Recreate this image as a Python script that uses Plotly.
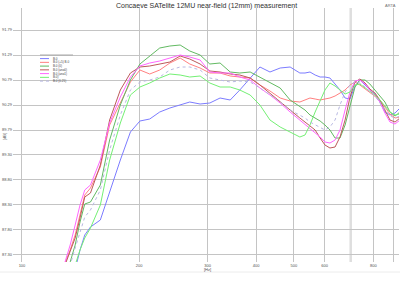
import plotly.graph_objects as go

# Frequency grid (Hz)
freq = [129, 133, 137, 141, 145, 150, 159, 168, 179, 190, 201, 213, 226, 240, 255, 270, 287,
        304, 323, 343, 363, 386, 409, 434, 461, 489, 518, 534, 550, 567, 584, 601, 619, 638,
        657, 677, 697, 718, 739, 762, 784, 808, 832, 857, 883, 910, 937]

s_blue = [86.19, 86.59, 87.03, 87.39, 87.69, 87.85, 87.99, 88.55, 89.19, 89.75, 89.97, 90.01, 90.15,
          90.23, 90.29, 90.35, 90.31, 90.33, 90.43, 90.39, 90.59, 90.83, 91.05, 90.95, 91.03, 91.05,
          90.93, 90.93, 90.95, 90.89, 90.85, 90.85, 90.83, 90.71, 90.59, 90.43, 90.41, 90.67, 90.79,
          90.69, 90.59, 90.51, 90.35, 90.15, 90.09, 90.13, 90.23]
s_red = [87.13, 87.39, 87.69, 88.09, 88.49, 88.63, 89.05, 89.89, 90.33, 90.75, 90.99, 90.91, 90.99,
         91.13, 91.23, 91.11, 91.03, 90.93, 90.93, 90.87, 90.85, 90.83, 90.69, 90.57, 90.43, 90.37,
         90.35, 90.39, 90.43, 90.41, 90.39, 90.41, 90.43, 90.47, 90.53, 90.59, 90.69, 90.75, 90.69,
         90.61, 90.53, 90.47, 90.39, 90.25, 90.11, 90.03, 90.05]
s_green = [86.69, 87.15, 87.49, 87.95, 88.31, 88.35, 88.69, 89.59, 90.29, 90.79, 91.11, 91.27, 91.43,
           91.47, 91.49, 91.37, 91.29, 91.11, 91.13, 90.95, 90.93, 90.95, 90.85, 90.75, 90.63, 90.39,
           90.25, 90.19, 90.09, 90.03, 89.97, 89.89, 89.79, 89.63, 89.63, 89.89, 90.25, 90.65, 90.79,
           90.79, 90.71, 90.59, 90.49, 90.35, 90.15, 90.07, 90.15]
s_brown = [87.09, 87.35, 87.63, 88.03, 88.45, 88.53, 89.09, 89.99, 90.59, 90.93, 91.05, 91.07, 91.11,
           91.15, 91.27, 91.21, 91.11, 90.97, 90.95, 90.91, 90.89, 90.83, 90.69, 90.53, 90.35, 90.19,
           90.03, 89.95, 89.87, 89.79, 89.63, 89.49, 89.43, 89.45, 89.65, 89.99, 90.45, 90.75, 90.81,
           90.73, 90.61, 90.53, 90.39, 90.19, 89.99, 89.95, 90.03]
s_magenta = [87.15, 87.49, 87.89, 88.29, 88.59, 88.69, 89.19, 89.93, 90.45, 90.85, 91.07, 91.13, 91.17,
             91.23, 91.29, 91.25, 91.19, 90.95, 90.93, 90.93, 90.85, 90.79, 90.63, 90.49, 90.33, 90.15,
             89.99, 89.91, 89.83, 89.75, 89.65, 89.55, 89.53, 89.59, 89.79, 90.19, 90.55, 90.77, 90.79,
             90.71, 90.59, 90.49, 90.35, 90.13, 89.95, 89.91, 89.99]
s_lgreen = [86.39, 86.69, 87.09, 87.39, 87.63, 87.83, 88.29, 89.19, 89.93, 90.49, 90.65, 90.73, 90.83,
            90.91, 90.89, 90.85, 90.87, 90.73, 90.65, 90.65, 90.59, 90.49, 90.29, 89.99, 89.85, 89.75,
            89.65, 89.69, 89.89, 90.15, 90.39, 90.59, 90.73, 90.67, 90.59, 90.51, 90.55, 90.69, 90.71,
            90.63, 90.55, 90.49, 90.39, 90.27, 90.15, 90.09, 90.11]
s_lav = [86.59, 87.09, 87.43, 87.75, 88.05, 88.19, 88.59, 89.39, 90.09, 90.59, 90.75, 90.79, 90.85,
         90.99, 91.05, 91.05, 90.99, 90.83, 90.79, 90.75, 90.77, 90.75, 90.63, 90.49, 90.35, 90.19,
         90.09, 90.03, 89.95, 89.89, 89.83, 89.79, 89.85, 89.99, 90.29, 90.55, 90.69, 90.75, 90.73,
         90.65, 90.55, 90.47, 90.33, 90.19, 90.07, 90.03, 90.07]

names = ["B.0", "B.0 (+5) B.0", "B.0 (0)", "B.0 (ano0)", "B.0 (ano1)", "B.0)", "B.0 (0.25)"]
series = [s_blue, s_red, s_green, s_brown, s_magenta, s_lgreen, s_lav]
colors = ["#7c7cff", "#ff8080", "#62ba62", "#bc5a5a", "#ff66ff", "#74f074", "#b8b8e2"]
dashes = ["solid"] * 6 + ["dot"]

x_ticks = [100, 200, 300, 400, 500, 600, 800, 900]
x_ticktext = ["100", "200", "300", "400", "500", "600", "800", ""]
x_marker = 700
y_ticks = [87.30, 87.80, 88.30, 88.80, 89.30, 89.79, 90.29, 90.79, 91.29, 91.79]
y_ticktext = ["87.30", "87.80", "88.30", "88.80", "89.30", "89.79", "90.29", "90.79", "91.29", "91.79"]

W, H = 400, 287
ML, MR, MT, MB = 13, 1, 8, 25
PW, PH = W - ML - MR, H - MT - MB


def px(xp):
    return (xp - ML) / PW


def py(yp):
    return (H - MB - yp) / PH


fig = go.Figure()
for name, s, c, d in zip(names, series, colors, dashes):
    fig.add_trace(go.Scatter(x=freq, y=s, mode="lines", name=name,
                             line=dict(color=c, width=1, dash=d), showlegend=False))

shapes = [dict(type="line", xref="x", yref="paper", x0=x_marker, x1=x_marker, y0=0, y1=1,
               line=dict(color="#dedede", width=2.5), layer="below")]
annotations = []

# legend drawn as small decorations
shapes.append(dict(type="line", xref="paper", yref="paper", x0=px(40), x1=px(73), y0=py(55), y1=py(55),
                   line=dict(color="#a8a8a8", width=1)))
for i, (name, c, d) in enumerate(zip(names, colors, dashes)):
    yy = 58.6 + i * 3.75
    shapes.append(dict(type="line", xref="paper", yref="paper", x0=px(40), x1=px(49), y0=py(yy), y1=py(yy),
                       line=dict(color=c, width=1, dash=d)))
    annotations.append(dict(xref="paper", yref="paper", x=px(51), y=py(yy), text=name, showarrow=False,
                            xanchor="left", yanchor="middle", font=dict(size=3, color="#404040")))

annotations += [
    dict(xref="paper", yref="paper", x=px(206), y=py(6), text="Concaeve SATelite 12MU near-field (12mm) measurement",
         showarrow=False, xanchor="center", yanchor="middle", font=dict(size=7, color="#303030")),
    dict(xref="paper", yref="paper", x=px(398), y=py(5), text="ARTA", showarrow=False,
         xanchor="right", yanchor="middle", font=dict(size=4, color="#707070")),
    dict(xref="paper", yref="paper", x=px(207), y=py(269), text="[Hz]", showarrow=False,
         xanchor="center", yanchor="middle", font=dict(size=4, color="#505050")),
    dict(xref="paper", yref="paper", x=px(4), y=py(137), text="[dB]", showarrow=False, textangle=-90,
         xanchor="center", yanchor="middle", font=dict(size=4, color="#505050")),
]
shapes.append(dict(type="line", xref="paper", yref="paper", x0=px(0), x1=px(400), y0=py(272), y1=py(272),
                   line=dict(color="#ececec", width=1)))

fig.update_layout(
    width=W, height=H, margin=dict(l=ML, r=MR, t=MT, b=MB),
    paper_bgcolor="white", plot_bgcolor="white",
    font=dict(family="Liberation Sans, Arial, sans-serif", size=4, color="#505050"),
    shapes=shapes, annotations=annotations, showlegend=False,
    xaxis=dict(type="log", range=[1.9769, 2.9692], tickvals=x_ticks, ticktext=x_ticktext,
               showgrid=True, gridcolor="#c4c4c4", gridwidth=1, zeroline=False, showline=False,
               ticks="", tickfont=dict(size=4, color="#505050"), ticklabelstandoff=0),
    yaxis=dict(range=[87.15, 92.23], tickvals=y_ticks, ticktext=y_ticktext,
               showgrid=True, gridcolor="#c4c4c4", gridwidth=1, zeroline=False, showline=False,
               ticks="", tickfont=dict(size=4, color="#505050"), ticklabelstandoff=0),
)

fig.write_html("out.html")
